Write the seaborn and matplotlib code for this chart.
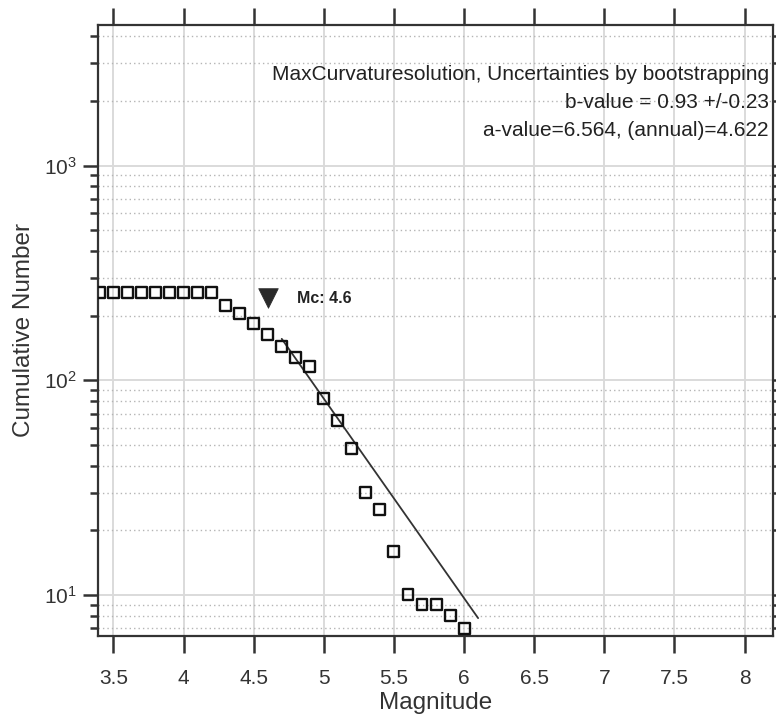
import numpy as np
import pandas as pd
import matplotlib
matplotlib.use("Agg")
import matplotlib.pyplot as plt
import matplotlib.ticker as mticker
import seaborn as sns

# ---- data ----
magnitude = [3.4, 3.5, 3.6, 3.7, 3.8, 3.9, 4.0, 4.1, 4.2, 4.3, 4.4, 4.5, 4.6, 4.7,
             4.8, 4.9, 5.0, 5.1, 5.2, 5.3, 5.4, 5.5, 5.6, 5.7, 5.8, 5.9, 6.0]
cum_number = [256, 256, 256, 256, 256, 256, 256, 256, 256, 224, 205, 184, 163, 144,
              128, 116, 82, 65, 48, 30, 25, 16, 10, 9, 9, 8, 7]
fit_mag = [4.7, 6.1]
fit_n = [156, 7.8]
mc_mag = [4.6]
mc_n = [241]
mc_label = "Mc: 4.6"
info_lines = ["MaxCurvaturesolution, Uncertainties by bootstrapping",
              "b-value = 0.93 +/-0.23",
              "a-value=6.564, (annual)=4.622"]
xticks = [3.5, 4, 4.5, 5, 5.5, 6, 6.5, 7, 7.5, 8]
xticklabels = ["3.5", "4", "4.5", "5", "5.5", "6", "6.5", "7", "7.5", "8"]

sns.set_theme(style="white")
plt.rcParams['font.family'] = ['Liberation Sans', 'DejaVu Sans']
plt.rcParams['mathtext.fontset'] = 'custom'
plt.rcParams['mathtext.rm'] = 'Liberation Sans'
plt.rcParams['mathtext.it'] = 'Liberation Sans:italic'
plt.rcParams['mathtext.bf'] = 'Liberation Sans:bold'

dark = '#333333'
fig, ax = plt.subplots(figsize=(7.76, 7.27), dpi=100)
fig.subplots_adjust(left=0.1263, right=0.9957, bottom=0.1252, top=0.9656)

df = pd.DataFrame({"Magnitude": magnitude, "N": cum_number})
fit_df = pd.DataFrame({"Magnitude": fit_mag, "N": fit_n})

sns.lineplot(data=fit_df, x="Magnitude", y="N", color=dark, linewidth=1.3, ax=ax, zorder=3)
sns.scatterplot(data=df, x="Magnitude", y="N", marker='s', s=62, facecolor='none',
                edgecolor='#111111', linewidth=1.7, ax=ax, zorder=4)
sns.scatterplot(x=mc_mag, y=mc_n, marker='v', s=200, color='#2a2a2a', edgecolor='#2a2a2a',
                linewidth=0.5, ax=ax, zorder=5)
ax.annotate(mc_label, xy=(mc_mag[0], mc_n[0]), xytext=(21, 0), textcoords='offset points',
            va='center', ha='left', fontsize=11.5, fontweight='bold', color='#222222')

ax.set_yscale('log')
ax.set_xlim(3.39, 8.2)
ax.set_ylim(6.44, 4520)
ax.set_xticks(xticks, labels=xticklabels)
ax.xaxis.set_minor_locator(mticker.NullLocator())
ax.yaxis.set_minor_locator(mticker.LogLocator(base=10, subs=np.arange(2, 10)))
ax.yaxis.set_minor_formatter(mticker.NullFormatter())

ax.set_axisbelow(True)
ax.grid(which='major', axis='both', color='#dadada', linewidth=1.4, linestyle='-')
ax.grid(which='minor', axis='y', color='#b5b5b5', linewidth=1.0, linestyle=(0, (1, 2.2)))

for s in ax.spines.values():
    s.set_visible(True)
    s.set_color(dark)
    s.set_linewidth(1.6)

ax.tick_params(which='both', direction='out', top=True, right=True, left=True, bottom=True,
               colors=dark, width=1.8, labelcolor=dark, labelsize=15)
ax.tick_params(axis='x', which='major', length=12, pad=12)
ax.tick_params(axis='y', which='major', length=10.5, pad=5)
ax.tick_params(axis='y', which='minor', length=5.5)

ax.set_xlabel("Magnitude", fontsize=17.5, color=dark, labelpad=3)
ax.set_ylabel("Cumulative Number", fontsize=17.5, color=dark, labelpad=6)

for txt, yy in zip(info_lines, [0.910, 0.8637, 0.8183]):
    ax.text(0.9945, yy, txt, transform=ax.transAxes, ha='right', va='baseline',
            fontsize=15, color='#222222')

fig.savefig("out.png", dpi=100)
